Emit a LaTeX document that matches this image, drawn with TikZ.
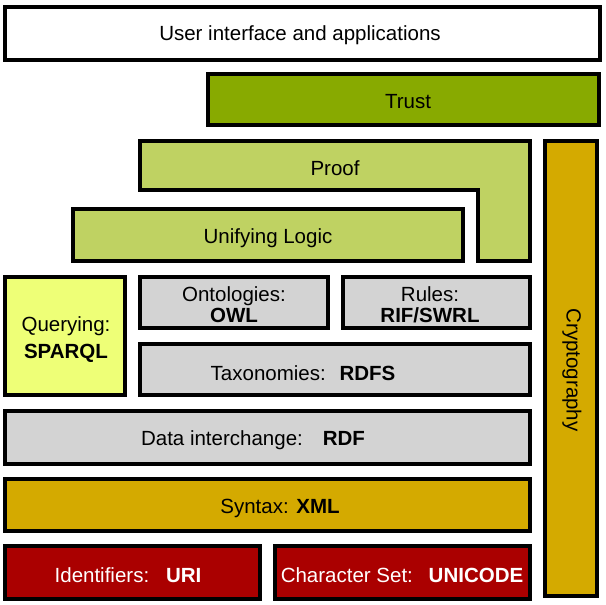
\documentclass[tikz,border=0pt]{standalone}
\usepackage{fontspec}
\setmainfont{Liberation Sans}

\definecolor{trustgreen}{HTML}{88AA00}
\definecolor{logicgreen}{HTML}{BFD262}
\definecolor{queryyellow}{HTML}{EEFF77}
\definecolor{layergrey}{HTML}{D3D3D3}
\definecolor{syntaxgold}{HTML}{D4AA00}
\definecolor{basered}{HTML}{AA0000}

\tikzset{
  layer/.style={draw=black, line width=4pt, line join=miter},
  twolines/.style={align=center, font=\fontsize{20.5}{#1}\selectfont}
}

\begin{document}
\begin{tikzpicture}[x=1pt, y=-1pt, font=\fontsize{20.5}{24}\selectfont]

				%\draw[help lines] (0,0) grid (605,605);
				\useasboundingbox (0,0) rectangle (605,605);	% For alignment only

				\draw[layer, fill=white] (5,7) rectangle (600,60);
				\draw[layer, fill=trustgreen] (208,74) rectangle (599,125);
				\draw[layer, fill=logicgreen] (140,141) -- (530,141) -- (530,261) -- (478,261) -- (478,190) -- (140,190) -- cycle;
				\draw[layer, fill=syntaxgold] (545,141) rectangle (597,596);
				\draw[layer, fill=logicgreen] (73,209) rectangle (463,261);

				\draw[layer, fill=queryyellow] (5,277) rectangle (125,395);
				\draw[layer, fill=layergrey] (140,277) rectangle (328,328);
				\draw[layer, fill=layergrey] (343,277) rectangle (530,328);
				\draw[layer, fill=layergrey] (140,344) rectangle (530,395);
				\draw[layer, fill=layergrey] (5,411) rectangle (530,464);
				\draw[layer, fill=syntaxgold] (5,479) rectangle (530,531);
				\draw[layer, fill=basered] (5,546) rectangle (260,599);
				\draw[layer, fill=basered] (275,546) rectangle (530,599);

				\node (ui) at (300,35) {User interface and applications};
				\node (trust) at (408,102) {Trust};
				\node (proof) at (335,168) {Proof};
				\node (logic) at (268,238) {Unifying Logic};
				\node[rotate=-90] (crypto) at (572,370) {Cryptography};

				\node[twolines=27] (query) at (66,340) {Querying:\\\textbf{SPARQL}};
				\node[twolines=21] (owl) at (234,305) {Ontologies:\\\textbf{OWL}};
				\node[twolines=21] (rules) at (430,305) {Rules:\\\textbf{RIF/SWRL}};
				\node (rdfs) at (303,373) {Taxonomies:\hspace{0.3em} \textbf{RDFS}};
				\node (rdf) at (253,440) {Data interchange:\hspace{0.6em} \textbf{RDF}};
				\node (xml) at (280,508) {Syntax: \textbf{XML}};
				\node[white] (uri) at (128,575) {Identifiers:\hspace{0.45em} \textbf{URI}};
				\node[white] (unicode) at (402,575) {Character Set:\hspace{0.4em} \textbf{UNICODE}};

			\end{tikzpicture}
\end{document}
